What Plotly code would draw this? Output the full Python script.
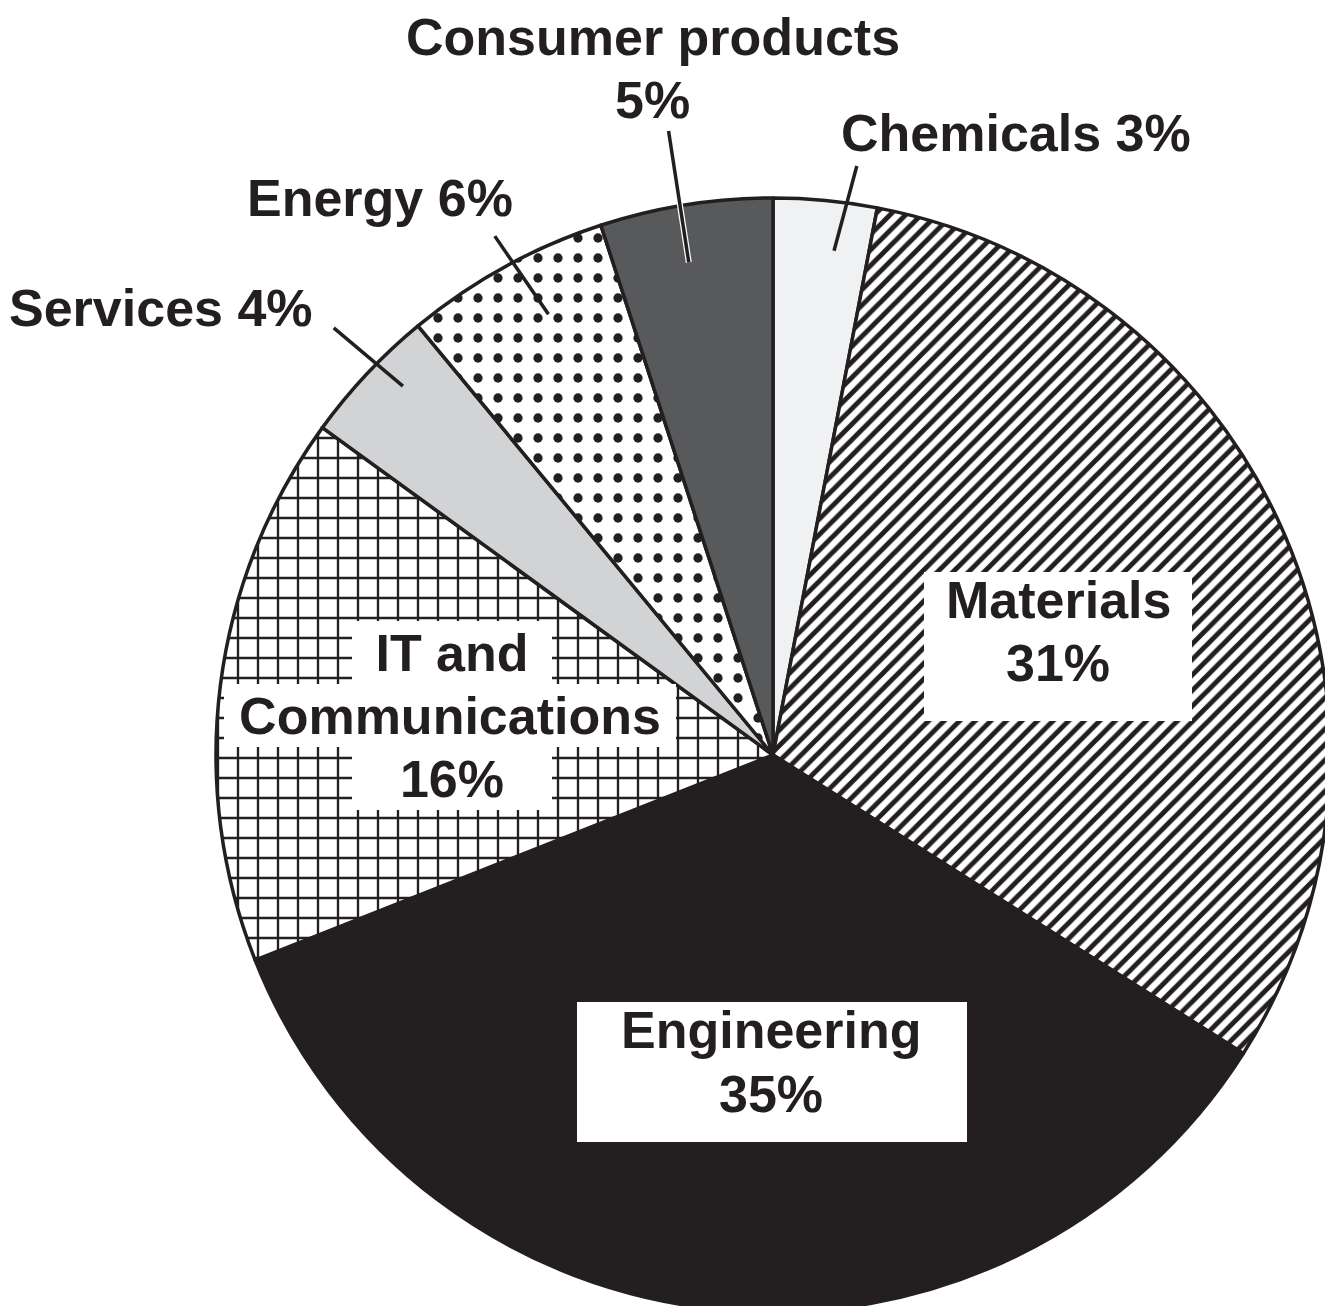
import math
import plotly.graph_objects as go

# ---------------- data ----------------
categories = ["Chemicals", "Materials", "Engineering", "IT and Communications",
              "Services", "Energy", "Consumer products"]
shares = [3, 31, 35, 16, 4, 6, 5]

# ---------------- styling ----------------
PAGE_W, PAGE_H = 1333, 1306
OX, OY = 8, 8                         # default body margin of the html page
FW, FH = PAGE_W - OX, 1304            # figure size in pixels
CX, CY, R = 773, 755, 557             # pie centre / radius in page pixels
INK = "#231f20"
FONT = "Liberation Sans, Arial, Helvetica, sans-serif"
FS = 52

fill_colors = ["#f0f1f2", "#ffffff", INK, "#ffffff", "#d1d3d4", "#ffffff", "#58595b"]
pattern_shapes = ["", "/", "", "+", "", ".", ""]
pattern_sizes = [8, 11, 8, 20, 8, 20, 8]
pattern_solidity = [0.3, 0.45, 0.3, 0.22, 0.3, 0.17, 0.3]


def px(x):
    return (x - OX) / FW


def py(y):
    return 1 - (y - OY) / FH


fig = go.Figure(go.Pie(
    labels=categories,
    values=shares,
    sort=False,
    direction="clockwise",
    rotation=0,
    textinfo="none",
    hoverinfo="label+percent",
    showlegend=False,
    marker=dict(
        colors=fill_colors,
        line=dict(color=INK, width=3.5),
        pattern=dict(shape=pattern_shapes, fgcolor=INK, fgopacity=1,
                     size=pattern_sizes, solidity=pattern_solidity),
    ),
    domain=dict(x=[px(CX - R), px(CX + R)], y=[max(0.0, py(CY + R)), py(CY - R)]),
))

# mid-angle (degrees clockwise from 12 o'clock) of every slice, from the data
total = sum(shares)
mid_angle = {}
acc = 0
for cat, v in zip(categories, shares):
    mid_angle[cat] = 360 * (acc + v / 2) / total
    acc += v


def polar(angle_deg, rfrac):
    a = math.radians(angle_deg)
    return CX + R * rfrac * math.sin(a), CY - R * rfrac * math.cos(a)


share = dict(zip(categories, shares))

# ---------------- leader lines ----------------
# (category, inner radius frac, outer radius frac, inner angle offset, outer angle offset, halo)
leaders = [
    ("Chemicals", 0.912, 1.068, 1.5, 2.7, False),
    ("Consumer products", 0.897, 1.136, -0.7, -0.5, True),
    ("Energy", 0.888, 1.057, 1.8, 0.6, False),
    ("Services", 0.938, 1.100, 1.7, 1.0, False),
]
shapes = []
for cat, r0, r1, d0, d1, halo in leaders:
    x0, y0 = polar(mid_angle[cat] + d0, r0)
    x1, y1 = polar(mid_angle[cat] + d1, r1)
    if halo:
        shapes.append(dict(type="line", xref="paper", yref="paper",
                           x0=px(x0), y0=py(y0), x1=px(x1), y1=py(y1),
                           line=dict(color="white", width=6), layer="above"))
    shapes.append(dict(type="line", xref="paper", yref="paper",
                       x0=px(x0), y0=py(y0), x1=px(x1), y1=py(y1),
                       line=dict(color=INK, width=3.5), layer="above"))

# white label boxes for Materials / Engineering
boxes = [(924, 572, 1192, 721), (577, 1002, 967, 1142)]
for x0, y0, x1, y1 in boxes:
    shapes.append(dict(type="rect", xref="paper", yref="paper",
                       x0=px(x0), y0=py(y0), x1=px(x1), y1=py(y1),
                       fillcolor="white", line=dict(width=0), layer="above"))

# ---------------- labels ----------------
# each entry: text, centre x, centre y, optional white box (w, h)
labels = [
    (f"Chemicals {share['Chemicals']}%", 1016, 133, None),
    ("Consumer products", 653, 37, None),
    (f"{share['Consumer products']}%", 652, 100, None),
    (f"Energy {share['Energy']}%", 380, 198, None),
    (f"Services {share['Services']}%", 161, 308, None),
    ("Materials", 1058, 600, None),
    (f"{share['Materials']}%", 1058, 663, None),
    ("Engineering", 771, 1030, None),
    (f"{share['Engineering']}%", 771, 1094, None),
    ("IT and", 452, 652, (200, 63)),
    ("Communications", 450, 715, (452, 63)),
    (f"{share['IT and Communications']}%", 452, 778, (200, 63)),
]

annotations = []
for text, x, y, box in labels:
    ann = dict(text=text, x=px(x), y=py(y), xref="paper", yref="paper",
               showarrow=False, xanchor="center", yanchor="middle",
               font=dict(family=FONT, size=FS, color=INK, weight="bold"))
    if box is not None:
        ann.update(width=box[0], height=box[1], bgcolor="white",
                   borderpad=0, borderwidth=0)
    annotations.append(ann)

fig.update_layout(
    width=FW, height=FH,
    margin=dict(l=0, r=0, t=0, b=0),
    paper_bgcolor="white",
    plot_bgcolor="white",
    shapes=shapes,
    annotations=annotations,
)

fig.write_html("out.html", config={"displayModeBar": False})
